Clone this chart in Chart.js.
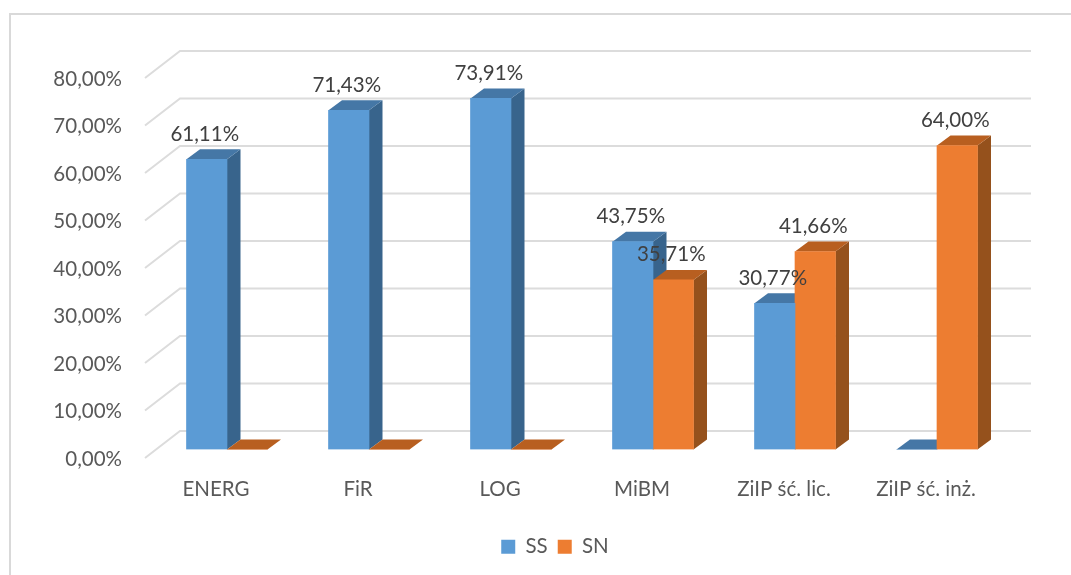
<!DOCTYPE html>
<html>
<head>
<meta charset="utf-8">
<script src="https://cdn.jsdelivr.net/npm/chart.js@4/dist/chart.umd.min.js"></script>
<style>
  html, body { margin: 0; padding: 0; background: #fff; }
  canvas { display: block; }
</style>
</head>
<body>
<canvas id="chart" width="1071" height="575"></canvas>
<script>
const categories = ["ENERG", "FiR", "LOG", "MiBM", "ZiIP ść. lic.", "ZiIP ść. inż."];
const ssValues = [61.11, 71.43, 73.91, 43.75, 30.77, 0];
const snValues = [0, 0, 0, 35.71, 41.66, 64.0];
const seriesNames = ["SS", "SN"];

const font = "Lato";
const fontSize = 20.5;
const frontColors = ["#5B9BD5", "#ED7D31"];
const sideColors = ["#38648C", "#95511C"];
const topColors = ["#4577A6", "#B85F20"];

function percent(v) {
  return v.toFixed(2).replace(".", ",") + "%";
}

function poly(ctx, points, fill) {
  ctx.beginPath();
  ctx.moveTo(points[0][0], points[0][1]);
  for (let i = 1; i < points.length; i++) {
    ctx.lineTo(points[i][0], points[i][1]);
  }
  if (fill) {
    ctx.fillStyle = fill;
    ctx.fill();
  }
}

// Excel style 3D look: frame, floor/wall grid lines, bar sides and value labels
const fake3d = {
  id: "fake3d",
  afterLayout(chart) {
    // the tick labels are clipped to the scale box, so open it to the left
    chart.scales.y.left = 30;
  },
  beforeDraw(chart) {
    const ctx = chart.ctx;
    ctx.save();
    ctx.strokeStyle = "#D9D9D9";
    ctx.lineWidth = 2;
    poly(ctx, [[10, 575], [10, 14], [1071, 14]]);
    ctx.stroke();
    ctx.restore();
  },
  beforeDatasetsDraw(chart) {
    const ctx = chart.ctx;
    const yScale = chart.scales.y;
    const xScale = chart.scales.x;
    ctx.save();
    ctx.strokeStyle = "#DCDCDC";
    ctx.lineWidth = 2;
    yScale.ticks.forEach(t => {
      const y = yScale.getPixelForValue(t.value);
      poly(ctx, [
        [xScale.left - 11, y + 8.5],
        [xScale.left + 24, y - 18.5],
        [xScale.right + 23, y - 18.5]
      ]);
      ctx.stroke();
    });

    // Chart.js paints the last dataset first, so all the side faces go down here
    const dx = 13.5;
    const dy = 10;
    chart.data.datasets.forEach((ds, i) => {
      chart.getDatasetMeta(i).data.forEach(bar => {
        const l = bar.x - bar.width / 2;
        const r = bar.x + bar.width / 2;
        poly(ctx, [[r, bar.y], [r + dx, bar.y - dy], [r + dx, bar.base - dy], [r, bar.base]], sideColors[i]);
        poly(ctx, [[l, bar.y], [l + dx, bar.y - dy], [r + dx, bar.y - dy], [r, bar.y]], topColors[i]);
      });
    });
    ctx.restore();
  },
  afterDatasetsDraw(chart) {
    const ctx = chart.ctx;
    ctx.save();
    ctx.font = fontSize + "px " + font;
    ctx.fillStyle = "#404040";
    ctx.textAlign = "center";
    ctx.textBaseline = "middle";
    chart.data.datasets.forEach((ds, i) => {
      chart.getDatasetMeta(i).data.forEach((bar, j) => {
        if (ds.data[j] > 0) {
          ctx.fillText(percent(ds.data[j]), bar.x - 2, bar.y - 25);
        }
      });
    });
    ctx.restore();
  }
};

new Chart(document.getElementById("chart"), {
  type: "bar",
  data: {
    labels: categories,
    datasets: [
      { label: seriesNames[0], data: ssValues, backgroundColor: frontColors[0], barThickness: 40.5 },
      { label: seriesNames[1], data: snValues, backgroundColor: frontColors[1], barThickness: 40.5 }
    ]
  },
  plugins: [fake3d],
  options: {
    responsive: false,
    animation: false,
    layout: { padding: { left: 102, right: 63, top: 69.5, bottom: 8 } },
    plugins: {
      tooltip: { enabled: false },
      legend: {
        position: "bottom",
        labels: {
          boxWidth: 14,
          boxHeight: 14,
          color: "#595959",
          font: { family: font, size: fontSize }
        }
      }
    },
    scales: {
      x: {
        grid: { display: false },
        border: { display: false },
        afterFit(scale) { scale.height = 77; },
        ticks: {
          color: "#595959",
          font: { family: font, size: fontSize },
          padding: 20,
          labelOffset: -11,
          maxRotation: 0
        }
      },
      y: {
        min: 0,
        max: 80,
        grid: { display: false },
        border: { display: false },
        afterFit(scale) { scale.width = 54; },
        ticks: {
          stepSize: 10,
          color: "#595959",
          font: { family: font, size: fontSize },
          padding: 26,
          labelOffset: 9.5,
          callback: v => percent(v)
        }
      }
    }
  }
});
</script>
</body>
</html>
